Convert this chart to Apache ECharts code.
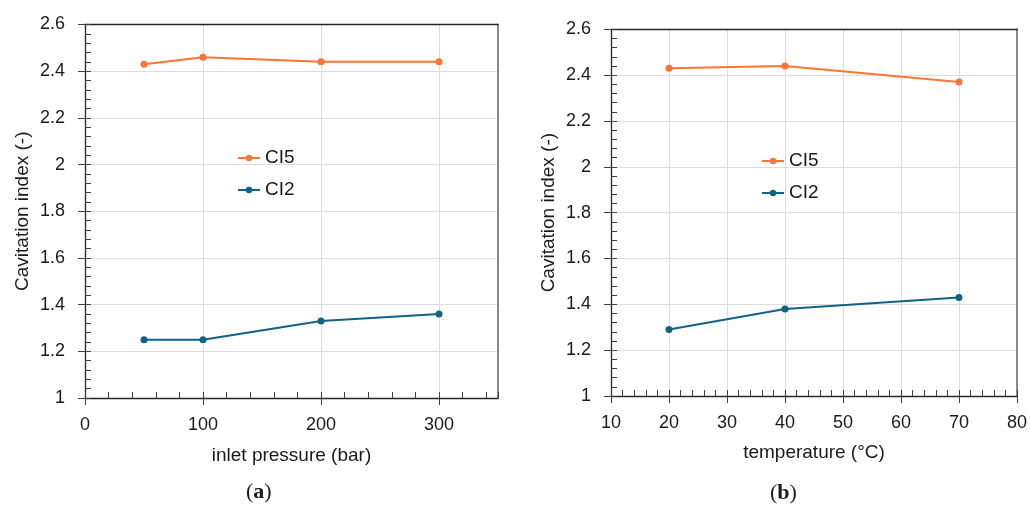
<!DOCTYPE html>
<html><head><meta charset="utf-8">
<script src="https://cdn.jsdelivr.net/npm/echarts@6/dist/echarts.min.js"></script>
<style>html,body{margin:0;padding:0;background:#fff}#c{width:1030px;height:506px}</style>
</head><body><div id="c"></div>
<script>
// ---- data ----
const pressure = [50, 100, 200, 300];
const ci5Pressure = [2.43, 2.46, 2.44, 2.44];
const ci2Pressure = [1.25, 1.25, 1.33, 1.36];
const temperature = [20, 40, 70];
const ci5Temp = [2.43, 2.44, 2.37];
const ci2Temp = [1.29, 1.38, 1.43];
const seriesNames = ['CI5', 'CI2'];
const yTitle = 'Cavitation index (-)';
const xTitles = ['inlet pressure (bar)', 'temperature (°C)'];
const pressureTicks = [0, 100, 200, 300];
const tempTicks = [10, 20, 30, 40, 50, 60, 70, 80];
const captions = ['a', 'b'];

// ---- styles ----
const ORANGE = '#FB7634';
const BLUE = '#116288';
const FONT = 'Liberation Sans';
const TXT = '#1a1a1a';

const chart = echarts.init(document.getElementById('c'), null, {renderer: 'canvas'});

const grids = [
  {left: 85, top: 24.5, width: 413, height: 373.5},
  {left: 611, top: 29.3, width: 406, height: 366.7}
];

function mainX(g, min, max, interval, ticks, name, gap) {
  return {
    type: 'value', gridIndex: g, min, max, interval, position: 'bottom',
    axisLine: {show: true, onZero: false, lineStyle: {color: '#262626', width: 1.3}},
    axisTick: {show: true, inside: false, length: 7, customValues: ticks, lineStyle: {color: '#404040'}},
    axisLabel: {show: true, margin: 18, fontSize: 18, color: TXT, fontFamily: FONT, customValues: ticks},
    splitLine: {show: true, lineStyle: {color: '#dcdcdc', width: 1}},
    name, nameLocation: 'middle', nameGap: gap,
    nameTextStyle: {fontSize: 19, color: TXT, fontFamily: FONT}
  };
}
function minorX(g, min, max, interval) {
  return {
    type: 'value', gridIndex: g, min, max, interval, position: 'bottom',
    axisLine: {show: false, onZero: false},
    axisTick: {show: true, inside: true, length: 6, lineStyle: {color: '#404040'}},
    axisLabel: {show: false}, splitLine: {show: false}
  };
}
function topX(g, min, max) {
  return {
    type: 'value', gridIndex: g, min, max, position: 'top',
    axisLine: {show: true, onZero: false, lineStyle: {color: '#262626', width: 1.3}},
    axisTick: {show: false}, axisLabel: {show: false}, splitLine: {show: false}
  };
}
function mainY(g) {
  return {
    type: 'value', gridIndex: g, min: 1, max: 2.6, interval: 0.2, position: 'left',
    axisLine: {show: true, onZero: false, lineStyle: {color: '#262626', width: 1.3}},
    axisTick: {show: true, inside: false, length: 7, lineStyle: {color: '#404040'}},
    axisLabel: {show: true, margin: 20, fontSize: 18, color: TXT, fontFamily: FONT},
    splitLine: {show: true, lineStyle: {color: '#dcdcdc', width: 1}},
    name: yTitle, nameLocation: 'middle', nameGap: 53, nameRotate: 90,
    nameTextStyle: {fontSize: 19, color: TXT, fontFamily: FONT}
  };
}
function minorY(g) {
  return {
    type: 'value', gridIndex: g, min: 1, max: 2.6, interval: 0.04, position: 'left',
    axisLine: {show: false, onZero: false},
    axisTick: {show: true, inside: true, length: 6, lineStyle: {color: '#404040'}},
    axisLabel: {show: false}, splitLine: {show: false}
  };
}
function rightY(g) {
  return {
    type: 'value', gridIndex: g, min: 1, max: 2.6, position: 'right',
    axisLine: {show: true, onZero: false, lineStyle: {color: '#8a8a8a', width: 2}},
    axisTick: {show: false}, axisLabel: {show: false}, splitLine: {show: false}
  };
}

function line(name, xs, ys, color, xi, yi) {
  return {
    type: 'line', name, xAxisIndex: xi, yAxisIndex: yi,
    data: xs.map((x, i) => [x, ys[i]]),
    symbol: 'circle', symbolSize: 7,
    lineStyle: {color, width: 2}, itemStyle: {color},
    animation: false
  };
}

function legend(left, top) {
  return {
    data: seriesNames, orient: 'vertical', left, top, padding: 0,
    itemWidth: 22, itemHeight: 8, itemGap: 12,
    textStyle: {fontSize: 19, color: TXT, fontFamily: FONT, lineHeight: 20},
    selectedMode: false
  };
}

function caption(letter, cx, cy) {
  return {
    type: 'text', left: cx - 15, top: cy - 12,
    style: {
      text: '(' + '{b|' + letter + '}' + ')',
      rich: {b: {fontWeight: 'bold', fontFamily: 'Liberation Serif', fontSize: 22, fill: TXT}},
      font: '22px "Liberation Serif"', fill: TXT
    }
  };
}

chart.setOption({
  animation: false,
  backgroundColor: '#fff',
  grid: grids,
  xAxis: [
    mainX(0, 0, 350, 100, pressureTicks, xTitles[0], 48), minorX(0, 0, 350, 20), topX(0, 0, 350),
    mainX(1, 10, 80, 10, tempTicks, xTitles[1], 47), minorX(1, 10, 80, 2), topX(1, 10, 80)
  ],
  yAxis: [mainY(0), minorY(0), rightY(0), mainY(1), minorY(1), rightY(1)],
  legend: [legend(237, 148), legend(761, 151)],
  series: [
    line(seriesNames[0], pressure, ci5Pressure, ORANGE, 0, 0),
    line(seriesNames[1], pressure, ci2Pressure, BLUE, 0, 0),
    line(seriesNames[0], temperature, ci5Temp, ORANGE, 3, 3),
    line(seriesNames[1], temperature, ci2Temp, BLUE, 3, 3)
  ],
  graphic: [caption(captions[0], 261, 493), caption(captions[1], 785, 494)]
});
</script>
</body></html>
